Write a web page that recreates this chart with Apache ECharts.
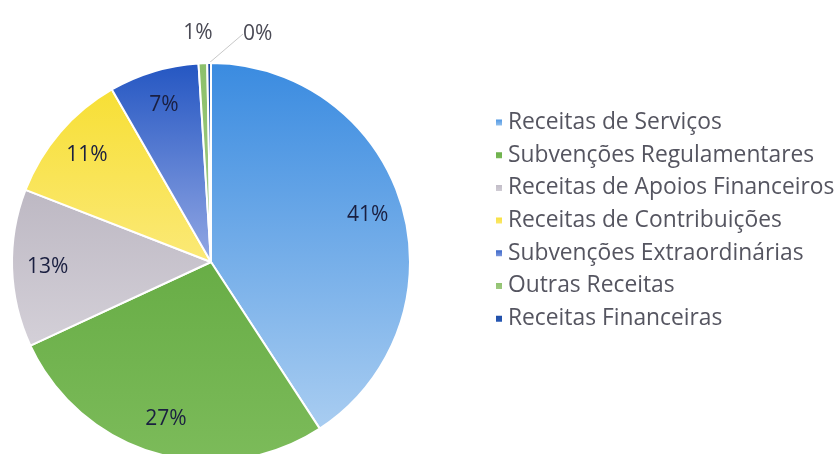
<!DOCTYPE html>
<html>
<head>
<meta charset="utf-8">
<script src="https://cdn.jsdelivr.net/npm/echarts@6/dist/echarts.min.js"></script>
<style>
  html, body { margin: 0; padding: 0; background: #fff; }
  #chartmain { width: 840px; height: 454px; }
</style>
</head>
<body>
<div id="chartmain"></div>
<script>
// categorias e valores (% das receitas)
var cate = ['Receitas de Serviços', 'Subvenções Regulamentares', 'Receitas de Apoios Financeiros',
	'Receitas de Contribuições', 'Subvenções Extraordinárias', 'Outras Receitas', 'Receitas Financeiras'];
var valores = [40.8, 27.3, 12.8, 10.8, 7.3, 0.7, 0.3];
var cores = [
	['#3a8be0', '#a9cdf1'],
	['#68ad46', '#7cbb5a'],
	['#bdb8c3', '#d4d0d8'],
	['#f7df35', '#fbe977'],
	['#2456c2', '#93a8e4'],
	['#8cc06a', '#a3cc86'],
	['#1d4aa3', '#2a5cb8']
];

function grad(c) {
	return new echarts.graphic.LinearGradient(0, 0, 0, 1, [
		{ offset: 0, color: c[0] },
		{ offset: 1, color: c[1] }
	]);
}

var dados = [];
var rotulos = [];
for (var i = 0; i < cate.length; i++) {
	dados.push({ name: cate[i], value: valores[i], itemStyle: { color: grad(cores[i]) } });
	var r = { name: cate[i], value: valores[i] };
	if (i >= 5) {
		r.label = { position: 'outside', color: '#4a4a55' };
		r.labelLine = { show: i === 6, length: 8, length2: 0, lineStyle: { color: '#c8c8c8', width: 1 } };
	}
	rotulos.push(r);
}

var fmt = function(p) {
	return Math.round(p.percent) + '%';
};

var option = {
	backgroundColor: '#fff',
	animation: false,
	legend: {
		orient: 'vertical',
		left: 489,
		top: 106,
		icon: 'rect',
		itemWidth: 8,
		itemHeight: 8,
		itemGap: 9.7,
		data: cate,
		textStyle: {
			fontFamily: 'Open Sans',
			fontSize: 22.8,
			lineHeight: 23,
			color: '#555560'
		}
	},
	series: [{
		name: 'Receitas',
		type: 'pie',
		center: [211, 262],
		radius: [0, 199],
		startAngle: 90,
		clockwise: true,
		silent: true,
		label: { show: false },
		labelLine: { show: false },
		itemStyle: { borderColor: '#fff', borderWidth: 2 },
		data: dados
	}, {
		name: 'Rotulos',
		type: 'pie',
		center: [211, 262],
		radius: [122, 199],
		startAngle: 90,
		clockwise: true,
		silent: true,
		avoidLabelOverlap: false,
		itemStyle: { color: 'rgba(0,0,0,0)' },
		label: {
			show: true,
			position: 'inside',
			formatter: fmt,
			fontFamily: 'Open Sans',
			fontSize: 21,
			color: '#1a1f40'
		},
		labelLine: { show: false },
		labelLayout: function(p) {
			// rótulos das fatias pequenas, por cima do gráfico
			if (p.dataIndex === 5) {
				return { x: 198, y: 33, align: 'center', verticalAlign: 'middle' };
			}
			if (p.dataIndex === 6) {
				return { x: 243, y: 34, align: 'left', verticalAlign: 'middle' };
			}
		},
		data: rotulos
	}]
};

var myChart = echarts.init(document.getElementById('chartmain'));
myChart.setOption(option);
</script>
</body>
</html>
